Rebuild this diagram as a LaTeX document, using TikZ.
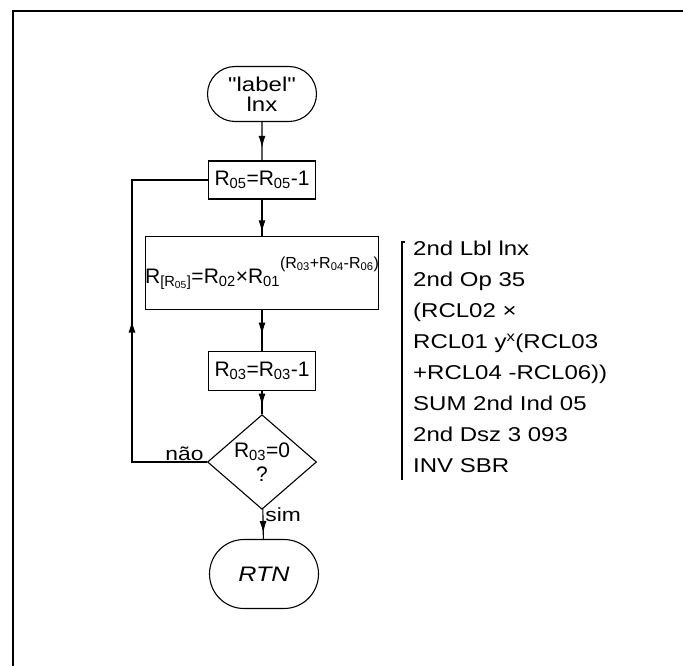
\documentclass[tikz,border=0pt]{standalone}
\usepackage{fontspec}
\setmainfont{Liberation Sans}
\newfontfamily\widefont[FakeStretch=1.2]{Liberation Sans}
\usetikzlibrary{shapes.geometric,shapes.misc,decorations.markings,arrows.meta}

\newcommand{\Rg}[1]{R\textsubscript{#1}}

\tikzset{
  flowbox/.style={draw,line width=1.1pt,inner sep=0pt,minimum width=107pt,minimum height=38pt},
  termbox/.style={draw,rounded rectangle,line width=1.1pt,inner sep=0pt,minimum width=109pt,minimum height=55pt,align=center},
  testbox/.style={draw,diamond,line width=1.1pt,inner sep=0pt,minimum width=109pt,minimum height=72pt,align=center},
  flowline/.style={line width=1.1pt,postaction={decorate},
    decoration={markings,mark=at position #1 with {\arrow{Latex[length=12pt,width=7pt]}}}},
  flowline/.default=0.7,
}

\begin{document}
\begin{tikzpicture}[x=1pt,y=-1pt,every node/.style={font=\fontsize{21}{24}\selectfont}]
  \useasboundingbox (0,0) rectangle (683,666);
  % frame
  \draw[line width=1.8pt] (12,11) -- (683,11);
  \draw[line width=1.8pt] (13,11) -- (13,666);

  % flowchart
  \node[termbox,font=\widefont\fontsize{20}{20}\selectfont] (start) at (262,94) {\symbol{"22}label\symbol{"22}\\lnx};
  \node[flowbox] (dec) at (262,180) {\Rg{05}=\Rg{05}-1};
  \node[flowbox,minimum width=227pt,minimum height=73pt] (calc) at (262,273)
    {\Rg{[\Rg{05}]}=\Rg{02}×\Rg{01}\raisebox{15pt}{\fontsize{16}{18}\selectfont(\Rg{03}+\Rg{04}-\Rg{06})}};
  \node[flowbox,minimum height=39pt] (cnt) at (262,371) {\Rg{03}=\Rg{03}-1};
  \node[testbox] (test) at (262,462) {\Rg{03}=0\\?};
  \node[termbox,minimum height=69pt,font=\widefont\fontsize{21}{24}\selectfont] (rtn) at (264,574) {\textit{RTN}};

  \draw[flowline=0.67] (start) -- (dec);
  \draw[flowline=0.9] (dec) -- (calc);
  \draw[flowline=0.6] (calc) -- (cnt);
  \draw[flowline=0.63] (cnt) -- (test);
  \draw[flowline=0.8] (test) -- node[right,pos=0.2,inner sep=2pt,font=\widefont\fontsize{19}{22}\selectfont]{sim} (rtn);
  \draw[flowline=0.5] (test.west) -- node[above,pos=0.3,inner sep=1pt,font=\widefont\fontsize{19}{22}\selectfont]{não} ++(-75,0) |- (dec.west);

  % program listing
  \draw[line width=1.1pt] (405,242) -- (402,242) -- (402,480);
  \node[anchor=north west,inner sep=0pt,align=left,font=\widefont\fontsize{20}{31}\selectfont] (prog) at (413,241)
    {2nd Lbl lnx\\
     2nd Op 35\\
     (RCL02 ×\\
     RCL01 y\textsuperscript{x}(RCL03\\
     +RCL04 -RCL06))\\
     SUM 2nd Ind 05\\
     2nd Dsz 3 093\\
     INV SBR};
\end{tikzpicture}
\end{document}
